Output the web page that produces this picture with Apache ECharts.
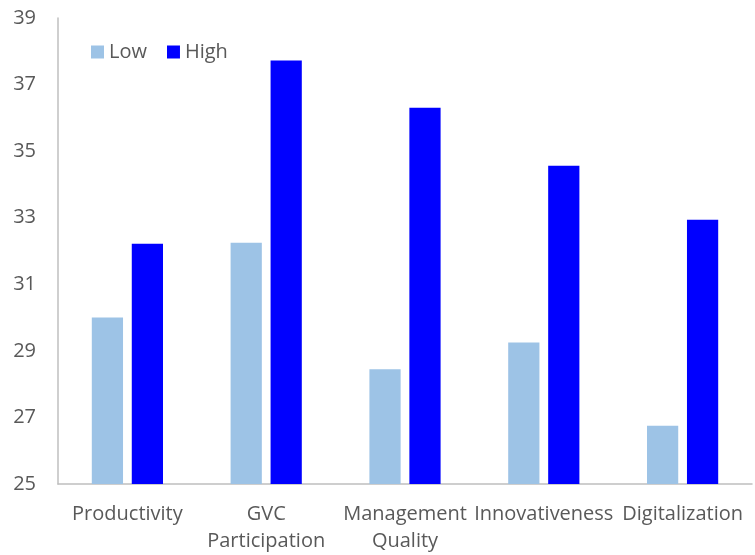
<!DOCTYPE html>
<html>
<head>
<meta charset="utf-8">
<script src="https://cdn.jsdelivr.net/npm/echarts@6/dist/echarts.min.js"></script>
<style>
  html, body { margin: 0; padding: 0; background: #fff; }
  #chart { width: 755px; height: 555px; }
</style>
</head>
<body>
<div id="chart"></div>
<script>
var categories = ['Productivity', 'GVC\nParticipation', 'Management\nQuality', 'Innovativeness', 'Digitalization'];
var lowValues = [30.0, 32.25, 28.45, 29.25, 26.75];
var highValues = [32.22, 37.72, 36.3, 34.56, 32.94];

var mychart = echarts.init(document.getElementById('chart'));
var textColor = '#595959';
var fontName = '"Open Sans", "Noto Sans", sans-serif';

var option = {
    animation: false,
    textStyle: { fontFamily: fontName },
    legend: {
        left: 86,
        top: 37,
        itemWidth: 13,
        itemHeight: 13,
        itemGap: 20,
        icon: 'rect',
        textStyle: { color: textColor, fontSize: 20, fontFamily: fontName },
        data: ['Low', 'High']
    },
    grid: {
        left: 58,
        right: 3,
        top: 18,
        bottom: 64,
        containLabel: false
    },
    xAxis: {
        type: 'category',
        data: categories,
        axisLine: { lineStyle: { color: '#BFBFBF', width: 1.5 } },
        axisTick: { show: false },
        axisLabel: {
            color: textColor,
            fontSize: 20,
            margin: 17,
            lineHeight: 27,
            interval: 0
        }
    },
    yAxis: {
        type: 'value',
        min: 25,
        max: 39,
        interval: 2,
        axisLine: { show: true, lineStyle: { color: '#BFBFBF', width: 1.5 } },
        axisTick: { show: false },
        splitLine: { show: false },
        axisLabel: { color: textColor, fontSize: 20, margin: 22 }
    },
    series: [
        {
            name: 'Low',
            type: 'bar',
            data: lowValues,
            barWidth: '22.5%',
            barGap: '28%',
            itemStyle: { color: '#9DC3E6' }
        },
        {
            name: 'High',
            type: 'bar',
            data: highValues,
            barWidth: '22.5%',
            itemStyle: { color: '#0000FF' }
        }
    ]
};
mychart.setOption(option);
</script>
</body>
</html>
